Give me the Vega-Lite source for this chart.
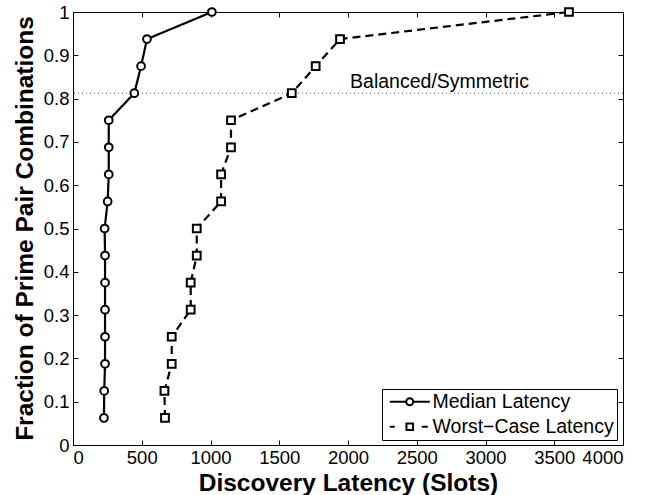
{
  "$schema": "https://vega.github.io/schema/vega-lite/v6.json",
  "width": 550,
  "height": 433,
  "autosize": {"type": "none"},
  "padding": {"left": 73, "top": 12, "right": 36, "bottom": 50},
  "background": "white",
  "config": {
    "font": "Liberation Sans",
    "view": {"stroke": "black", "strokeWidth": 1},
    "axis": {
      "grid": false,
      "domainColor": "black",
      "tickColor": "black",
      "labelColor": "black",
      "labelFont": "Liberation Sans",
      "labelFontSize": 18.5,
      "titleFont": "Liberation Sans",
      "titleFontSize": 24.5,
      "titleFontWeight": "bold",
      "titleColor": "black",
      "tickSize": -5,
      "tickWidth": 1
    }
  },
  "datasets": {
    "latency": [
      {"series": "Median Latency", "slots": 225, "fraction": 0.0625},
      {"series": "Median Latency", "slots": 227, "fraction": 0.125},
      {"series": "Median Latency", "slots": 233, "fraction": 0.1875},
      {"series": "Median Latency", "slots": 233, "fraction": 0.25},
      {"series": "Median Latency", "slots": 233, "fraction": 0.3125},
      {"series": "Median Latency", "slots": 233, "fraction": 0.375},
      {"series": "Median Latency", "slots": 233, "fraction": 0.4375},
      {"series": "Median Latency", "slots": 230, "fraction": 0.5},
      {"series": "Median Latency", "slots": 252, "fraction": 0.5625},
      {"series": "Median Latency", "slots": 260, "fraction": 0.625},
      {"series": "Median Latency", "slots": 260, "fraction": 0.6875},
      {"series": "Median Latency", "slots": 260, "fraction": 0.75},
      {"series": "Median Latency", "slots": 446, "fraction": 0.8125},
      {"series": "Median Latency", "slots": 495, "fraction": 0.875},
      {"series": "Median Latency", "slots": 538, "fraction": 0.9375},
      {"series": "Median Latency", "slots": 1010, "fraction": 1.0},
      {"series": "Worst−Case Latency", "slots": 669, "fraction": 0.0625},
      {"series": "Worst−Case Latency", "slots": 665, "fraction": 0.125},
      {"series": "Worst−Case Latency", "slots": 718, "fraction": 0.1875},
      {"series": "Worst−Case Latency", "slots": 718, "fraction": 0.25},
      {"series": "Worst−Case Latency", "slots": 856, "fraction": 0.3125},
      {"series": "Worst−Case Latency", "slots": 856, "fraction": 0.375},
      {"series": "Worst−Case Latency", "slots": 900, "fraction": 0.4375},
      {"series": "Worst−Case Latency", "slots": 900, "fraction": 0.5},
      {"series": "Worst−Case Latency", "slots": 1077, "fraction": 0.5625},
      {"series": "Worst−Case Latency", "slots": 1077, "fraction": 0.625},
      {"series": "Worst−Case Latency", "slots": 1149, "fraction": 0.6875},
      {"series": "Worst−Case Latency", "slots": 1149, "fraction": 0.75},
      {"series": "Worst−Case Latency", "slots": 1591, "fraction": 0.8125},
      {"series": "Worst−Case Latency", "slots": 1765, "fraction": 0.875},
      {"series": "Worst−Case Latency", "slots": 1942, "fraction": 0.9375},
      {"series": "Worst−Case Latency", "slots": 3607, "fraction": 1.0}
    ],
    "reference": [
      {"label": "Balanced/Symmetric", "slots": 2015, "fraction": 0.8125, "labelFraction": 0.8245}
    ]
  },
  "layer": [
    {
      "data": {"name": "reference"},
      "mark": {"type": "rule", "color": "#555555", "strokeWidth": 1, "strokeDash": [1, 3]},
      "encoding": {
        "y": {"field": "fraction", "type": "quantitative", "axis": null}
      }
    },
    {
      "data": {"name": "reference"},
      "mark": {"type": "text", "align": "left", "baseline": "alphabetic", "fontSize": 19.5, "font": "Liberation Sans", "color": "black"},
      "encoding": {
        "x": {
          "field": "slots", "type": "quantitative",
          "axis": {"orient": "top", "labels": false, "title": null, "values": [500, 1000, 1500, 2000, 2500, 3000, 3500], "domain": false}
        },
        "y": {
          "field": "labelFraction", "type": "quantitative",
          "axis": {"orient": "right", "labels": false, "title": null, "values": [0.1, 0.2, 0.3, 0.4, 0.5, 0.6, 0.7, 0.8, 0.9], "domain": false}
        },
        "text": {"field": "label"}
      }
    },
    {
      "data": {"name": "latency"},
      "mark": {"type": "line", "color": "black", "strokeWidth": 2.2},
      "encoding": {
        "x": {
          "field": "slots", "type": "quantitative",
          "scale": {"domain": [0, 4000], "nice": false, "zero": false},
          "axis": {
            "orient": "bottom",
            "title": "Discovery Latency (Slots)",
            "values": [0, 500, 1000, 1500, 2000, 2500, 3000, 3500, 4000],
            "format": "d",
            "labelPadding": 8,
            "titleX": 275,
            "titleY": 45,
            "titleBaseline": "alphabetic",
            "titleAlign": "center"
          }
        },
        "y": {
          "field": "fraction", "type": "quantitative",
          "scale": {"domain": [0, 1], "nice": false, "zero": false},
          "axis": {
            "orient": "left",
            "title": "Fraction of Prime Pair Combinations",
            "values": [0, 0.1, 0.2, 0.3, 0.4, 0.5, 0.6, 0.7, 0.8, 0.9, 1],
            "format": ".1~f",
            "labelPadding": 9,
            "titleX": -41,
            "titleY": 216,
            "titleAngle": -90,
            "titleBaseline": "alphabetic",
            "titleAlign": "center"
          }
        },
        "strokeDash": {
          "field": "series", "type": "nominal",
          "scale": {"domain": ["Median Latency", "Worst−Case Latency"], "range": [[1, 0], [8, 5]]},
          "legend": null
        },
        "order": {"field": "fraction", "type": "quantitative"}
      }
    },
    {
      "data": {"name": "latency"},
      "mark": {"type": "point", "color": "black", "strokeWidth": 2, "fill": "white", "filled": false, "opacity": 1},
      "encoding": {
        "x": {"field": "slots", "type": "quantitative", "axis": null},
        "y": {"field": "fraction", "type": "quantitative", "axis": null},
        "shape": {
          "field": "series", "type": "nominal",
          "scale": {"domain": ["Median Latency", "Worst−Case Latency"], "range": ["circle", "square"]},
          "legend": null
        },
        "size": {"value": 60}
      }
    },
    {
      "data": {"name": "latency"},
      "mark": {"type": "point", "color": "black", "opacity": 0},
      "encoding": {
        "x": {"field": "slots", "type": "quantitative", "axis": null},
        "y": {"field": "fraction", "type": "quantitative", "axis": null},
        "shape": {
          "field": "series", "type": "nominal",
          "scale": {
            "domain": ["Median Latency", "Worst−Case Latency"],
            "range": [
              "M-4,0H-0.7M0.7,0H4M0.7,0A0.7,0.7,0,1,1,-0.7,0A0.7,0.7,0,1,1,0.7,0",
              "M-4,0H-3M2.4,0H3.6M-0.66,-0.66H0.66V0.66H-0.66Z"
            ]
          },
          "legend": {
            "title": null,
            "orient": "none",
            "legendX": 309,
            "legendY": 377,
            "strokeColor": "black",
            "fillColor": "white",
            "padding": 3,
            "symbolSize": 100,
            "symbolOffset": 15,
            "symbolOpacity": 1,
            "symbolStrokeColor": "black",
            "symbolFillColor": "white",
            "symbolStrokeWidth": 2,
            "labelOffset": 13,
            "labelFont": "Liberation Sans",
            "labelFontSize": 19.5,
            "labelColor": "black",
            "labelLimit": 300,
            "rowPadding": 4
          }
        }
      }
    }
  ],
  "resolve": {
    "scale": {"shape": "independent"},
    "axis": {"x": "independent", "y": "independent"}
  }
}
